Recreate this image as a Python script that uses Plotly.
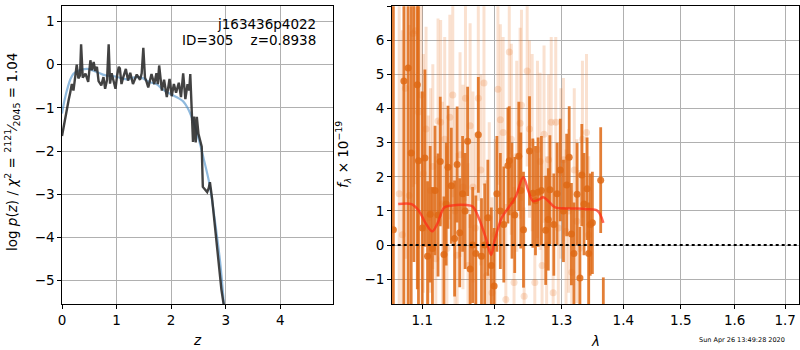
import plotly.graph_objects as go
import math

# ---------------- data: left panel (redshift PDF) ----------------
pz_z = [0.00, 0.04, 0.08, 0.12, 0.15, 0.18, 0.21, 0.24, 0.27, 0.30, 0.33, 0.35, 0.38, 0.43,
        0.48, 0.52, 0.55, 0.58, 0.61, 0.64, 0.67, 0.72, 0.76, 0.79, 0.825, 0.855, 0.88, 0.91,
        0.95, 0.98, 1.01, 1.04, 1.06, 1.09, 1.12, 1.17, 1.21, 1.25, 1.30, 1.34, 1.37, 1.43,
        1.46, 1.49, 1.52, 1.55, 1.58, 1.64, 1.69, 1.73, 1.755, 1.78, 1.83, 1.87, 1.92, 1.97,
        2.01, 2.05, 2.09, 2.14, 2.18, 2.22, 2.26, 2.30, 2.33, 2.35, 2.37, 2.40, 2.42, 2.45,
        2.47, 2.50, 2.53, 2.56, 2.58, 2.62, 2.66, 2.69, 2.71, 2.75, 2.80, 2.83, 2.87, 2.92, 2.98]
pz_logp = [-1.65, -1.35, -1.10, -0.83, -0.65, -0.45, -0.60, -0.25, 0.00, -0.32, -0.25, 0.47, -0.30, -0.21,
           -0.40, 0.10, -0.13, 0.06, -0.15, -0.05, -0.38, -0.48, -0.29, -0.56, -0.35, 0.47, -0.44, -0.20,
           -0.40, -0.56, -0.25, -0.05, -0.09, -0.45, -0.30, -0.10, -0.37, -0.19, -0.45, -0.30, -0.23, -0.35,
           -0.20, 0.39, -0.30, -0.40, -0.53, -0.22, -0.45, -0.20, -0.45, -0.02, -0.60, -0.35, -0.75, -0.33,
           -0.73, -0.45, -0.65, -0.42, -0.75, -0.20, -0.80, -0.45, -0.60, -0.22, -1.00, -1.79, -1.20, -1.80,
           -1.21, -1.60, -1.75, -1.90, -2.83, -2.90, -2.95, -2.85, -2.72, -3.10, -3.70, -4.07, -4.60, -5.20, -5.70]

smooth_z = [0.00, 0.05, 0.10, 0.15, 0.21, 0.30, 0.46, 0.60, 0.80, 1.00, 1.10, 1.20, 1.30, 1.45,
            1.60, 1.73, 1.85, 1.97, 2.14, 2.22, 2.30, 2.40, 2.50, 2.60, 2.70, 2.80, 2.90, 2.97]
smooth_logp = [-1.13, -0.80, -0.55, -0.35, -0.21, -0.14, -0.10, -0.15, -0.25, -0.28, -0.32, -0.34, -0.30, -0.30,
               -0.40, -0.45, -0.58, -0.67, -0.78, -0.85, -1.00, -1.30, -1.70, -2.20, -2.75, -3.60, -4.60, -5.60]

pz_xticks = [0, 1, 2, 3, 4]
pz_yticks = [-5, -4, -3, -2, -1, 0, 1]

# ---------------- data: right panel (spectrum) ----------------
dark_wave = [1.0625, 1.0760, 1.0815, 1.0855, 1.0890, 1.0935, 1.0950, 1.1000, 1.1035, 1.1070, 1.1105, 1.1135,
             1.1170, 1.1210, 1.1240, 1.1290, 1.1320, 1.1345, 1.1390, 1.1435, 1.1470, 1.1505, 1.1545, 1.1580,
             1.1615, 1.1650, 1.1685, 1.1730, 1.1765, 1.1810, 1.1855, 1.1900, 1.1950, 1.1990, 1.2030, 1.2080,
             1.2130, 1.2190, 1.2210, 1.2250, 1.2290, 1.2350, 1.2380, 1.2420, 1.2510, 1.2560, 1.2600, 1.2640,
             1.2690, 1.2755, 1.2795, 1.2820, 1.2880, 1.2930, 1.2980, 1.3030, 1.3080, 1.3120, 1.3155, 1.3195,
             1.3245, 1.3290, 1.3320, 1.3355, 1.3405, 1.3430, 1.3455, 1.3490, 1.3625, 1.3668]
dark_flux = [0.45, 4.81, 5.19, 2.70, 7.50, 4.70, 2.47, 0.50, 2.55, -0.33, 0.90, -0.10,
             1.60, 0.88, 2.45, -0.28, 1.20, 2.28, 1.74, 0.19, 2.36, 0.36, 1.50, 1.00,
             3.04, -0.70, 0.00, -0.25, 3.23, -0.33, 0.00, 0.80, -0.60, -1.20, 1.50, 1.00,
             0.60, 2.33, 2.47, 1.30, 0.88, 2.60, 1.60, 0.45, 2.76, 1.52, 1.30, 1.55,
             1.60, 0.43, 0.75, 1.62, 0.60, 1.50, 2.20, 1.00, 1.76, 2.57, 0.32, -0.25,
             1.49, -0.97, 2.05, 1.20, 1.65, -0.25, 0.60, 0.65, 1.90, -2.50]
dark_err = [12.0, 9.0, 9.0, 8.0, 8.0, 6.0, 5.0, 4.0, 2.6, 2.2, 2.0, 1.8,
            1.9, 1.8, 1.9, 1.7, 1.8, 1.8, 1.7, 1.7, 1.7, 1.6, 1.7, 1.7,
            1.6, 1.6, 1.7, 1.7, 1.7, 1.7, 1.8, 1.7, 1.7, 1.7, 1.7, 1.7,
            1.7, 1.7, 1.6, 1.7, 1.7, 1.6, 1.7, 1.7, 1.6, 1.6, 1.6, 1.6,
            1.6, 1.6, 1.5, 1.6, 1.5, 1.5, 1.5, 1.5, 1.5, 1.5, 1.5, 1.5,
            1.5, 1.5, 1.5, 1.5, 1.5, 1.5, 1.5, 1.5, 1.55, 1.55]

light_wave = [1.070, 1.074, 1.078, 1.083, 1.088, 1.091, 1.095, 1.0985, 1.1015, 1.105, 1.108, 1.111,
              1.114, 1.118, 1.121, 1.1245, 1.127, 1.130, 1.133, 1.137, 1.141, 1.144, 1.147, 1.151,
              1.155, 1.1585, 1.162, 1.165, 1.169, 1.1725, 1.1765, 1.180, 1.1845, 1.188, 1.192, 1.196,
              1.2005, 1.2045, 1.208, 1.212, 1.216, 1.221, 1.224, 1.228, 1.232, 1.237, 1.239, 1.243,
              1.2475, 1.251, 1.255, 1.259, 1.263, 1.267, 1.270, 1.273, 1.277, 1.280, 1.284, 1.287,
              1.291, 1.295, 1.299, 1.303, 1.307, 1.311, 1.316, 1.320, 1.324, 1.328, 1.333, 1.3395, 1.343]
light_flux = [1.50, 0.30, 4.60, 1.45, 6.20, 6.28, 3.90, 4.40, 2.10, 3.40, 0.80, 1.60,
              2.30, -0.40, 3.64, 3.60, 1.20, 3.10, -0.10, 3.75, 4.40, 1.00, -0.30, 2.65,
              1.70, 4.30, -0.60, 3.50, 1.70, 0.50, 4.30, 2.20, 4.75, -0.90, 0.80, -1.40,
              0.30, 4.57, 3.67, 3.30, -1.60, 5.66, 3.10, -1.10, 2.60, 3.57, 4.10, -1.50,
              5.10, 3.40, 3.00, -1.10, 2.80, 2.45, -0.60, 3.25, 0.00, 2.50, 3.60, -1.40,
              3.60, 0.50, 2.10, 2.50, 0.40, 1.00, -0.80, 2.20, 0.70, -0.10, 3.10, 3.30, 0.30]
light_err = [6.0, 6.0, 5.0, 5.0, 4.5, 4.5, 4.0, 3.5, 3.5, 3.0, 3.0, 3.0,
             3.0, 3.0, 3.0, 3.0, 3.0, 3.0, 3.0, 3.0, 3.0, 3.0, 3.0, 3.0,
             3.0, 3.0, 3.0, 3.0, 2.8, 2.8, 3.0, 2.8, 3.0, 2.8, 2.8, 2.8,
             2.8, 2.8, 2.8, 2.8, 2.8, 3.0, 2.8, 2.8, 2.8, 2.8, 2.8, 2.6,
             2.8, 2.6, 2.6, 2.6, 2.6, 2.6, 2.6, 2.6, 2.6, 2.5, 2.5, 2.5,
             2.5, 2.5, 2.5, 2.4, 2.4, 2.4, 2.4, 2.4, 2.4, 2.3, 2.3, 2.3, 2.3]

model_wave = [1.0687, 1.0859, 1.095, 1.105, 1.1132, 1.120, 1.1295, 1.140, 1.160, 1.1685, 1.178, 1.188,
              1.1947, 1.200, 1.210, 1.220, 1.230, 1.2417, 1.249, 1.2561, 1.265, 1.2716, 1.280, 1.290,
              1.300, 1.320, 1.340, 1.3575, 1.3668]
model_flux = [1.20, 1.20, 1.02, 0.62, 0.40, 0.62, 1.10, 1.16, 1.17, 1.13, 0.75, 0.15,
              -0.29, 0.15, 0.80, 1.10, 1.40, 1.99, 1.60, 1.29, 1.33, 1.40, 1.28, 1.10,
              1.08, 1.07, 1.05, 1.00, 0.65]

spec_xticks = [1.1, 1.2, 1.3, 1.4, 1.5, 1.6, 1.7]
spec_yticks = [-1, 0, 1, 2, 3, 4, 5, 6, 7]

label_line1 = "j163436p4022"
label_line2 = "ID=305    z=0.8938"
timestamp = "Sun Apr 26 13:49:28 2020"

# ---------------- figure ----------------
W, H = 800, 350
FONT = "DejaVu Sans"
FS = 13.5

def fx(p):
    return p / W

def fy(p):
    return 1 - p / H

ydom = [fy(304), fy(6.3)]

fig = go.Figure()

fig.add_trace(go.Scatter(x=smooth_z, y=smooth_logp, mode="lines", line_shape="spline",
                         line=dict(color="rgba(70,140,200,0.6)", width=2.2),
                         xaxis="x", yaxis="y", showlegend=False, hoverinfo="skip"))
fig.add_trace(go.Scatter(x=pz_z, y=pz_logp, mode="lines",
                         line=dict(color="rgba(45,45,45,0.9)", width=2.4),
                         xaxis="x", yaxis="y", showlegend=False, hoverinfo="skip"))

light_col = "rgba(230,120,40,0.22)"
dark_col = "rgba(222,105,20,0.85)"

fig.add_trace(go.Scatter(x=light_wave, y=light_flux, mode="markers",
                         marker=dict(color=light_col, size=7),
                         error_y=dict(type="data", array=light_err, color=light_col, thickness=3, width=0),
                         xaxis="x2", yaxis="y2", showlegend=False, hoverinfo="skip"))
fig.add_trace(go.Scatter(x=dark_wave, y=dark_flux, mode="markers",
                         marker=dict(color=dark_col, size=7),
                         error_y=dict(type="data", array=dark_err, color=dark_col, thickness=2.8, width=0),
                         xaxis="x2", yaxis="y2", showlegend=False, hoverinfo="skip"))
fig.add_trace(go.Scatter(x=model_wave, y=model_flux, mode="lines", line_shape="spline",
                         line=dict(color="rgba(255,40,20,0.7)", width=2.5),
                         xaxis="x2", yaxis="y2", showlegend=False, hoverinfo="skip"))
fig.add_trace(go.Scatter(x=[1.0604, 1.729], y=[0, 0], mode="lines",
                         line=dict(color="black", width=1.8, dash="dot"),
                         xaxis="x2", yaxis="y2", showlegend=False, hoverinfo="skip"))

axis_common = dict(showline=True, linecolor="black", linewidth=1.2, mirror=True,
                   ticks="outside", ticklen=3.5, tickwidth=1, tickcolor="black",
                   showgrid=True, gridcolor="#b0b0b0", gridwidth=1, zeroline=False,
                   automargin=False,
                   tickfont=dict(family=FONT, size=FS, color="black"))

def fmt(v):
    s = ("%g" % v)
    return s.replace("-", "\u2212")

fig.update_layout(
    width=W, height=H, margin=dict(l=0, r=0, t=0, b=0, autoexpand=False),
    paper_bgcolor="white", plot_bgcolor="white",
    font=dict(family=FONT, size=FS, color="black"),
    xaxis=dict(domain=[fx(62), fx(333)], range=[0, 4.965], anchor="y",
               tickvals=pz_xticks, ticktext=[fmt(v) for v in pz_xticks], **axis_common),
    yaxis=dict(domain=ydom, range=[-5.54, 1.35], anchor="x",
               tickvals=pz_yticks, ticktext=[fmt(v) for v in pz_yticks], **axis_common),
    xaxis2=dict(domain=[fx(391.7), fx(799.3)], type="log",
                range=[math.log10(1.0604), math.log10(1.729)], anchor="y2",
                tickvals=spec_xticks, ticktext=[fmt(v) for v in spec_xticks], **axis_common),
    yaxis2=dict(domain=ydom, range=[-1.73, 7.0], anchor="x2",
                tickvals=spec_yticks, ticktext=[fmt(v) for v in spec_yticks], **axis_common),
)

ann = [
    dict(x=fx(318), y=fy(24), text=label_line1, xanchor="right", yanchor="middle"),
    dict(x=fx(318), y=fy(40), text=label_line2, xanchor="right", yanchor="middle"),
    dict(x=fx(197), y=fy(340), text="<i>z</i>", xanchor="center", yanchor="middle"),
    dict(x=fx(595), y=fy(341), text="<i>λ</i>", xanchor="center", yanchor="middle"),
    dict(x=fx(12), y=fy(152), textangle=-90, xanchor="center", yanchor="middle",
         text="log <i>p</i>(<i>z</i>) / <i>χ</i><sup>2</sup> = <sup>2121</sup>⁄<sub>2045</sub> = 1.04"),
    dict(x=fx(343), y=fy(155), textangle=-90, xanchor="center", yanchor="middle",
         text="<i>f</i><sub><i>λ</i></sub> × 10<sup>−19</sup>"),
    dict(x=fx(742), y=fy(340), text=timestamp, xanchor="center", yanchor="middle",
         font=dict(family=FONT, size=6.5, color="black")),
]
for a in ann:
    a.setdefault("font", dict(family=FONT, size=FS, color="black"))
    a.update(xref="paper", yref="paper", showarrow=False)
fig.update_layout(annotations=ann)

fig.write_html("out.html", config={"displayModeBar": False},
               post_script="document.body.style.margin='0';document.body.style.padding='0';"
                           "document.body.style.overflow='hidden';")
